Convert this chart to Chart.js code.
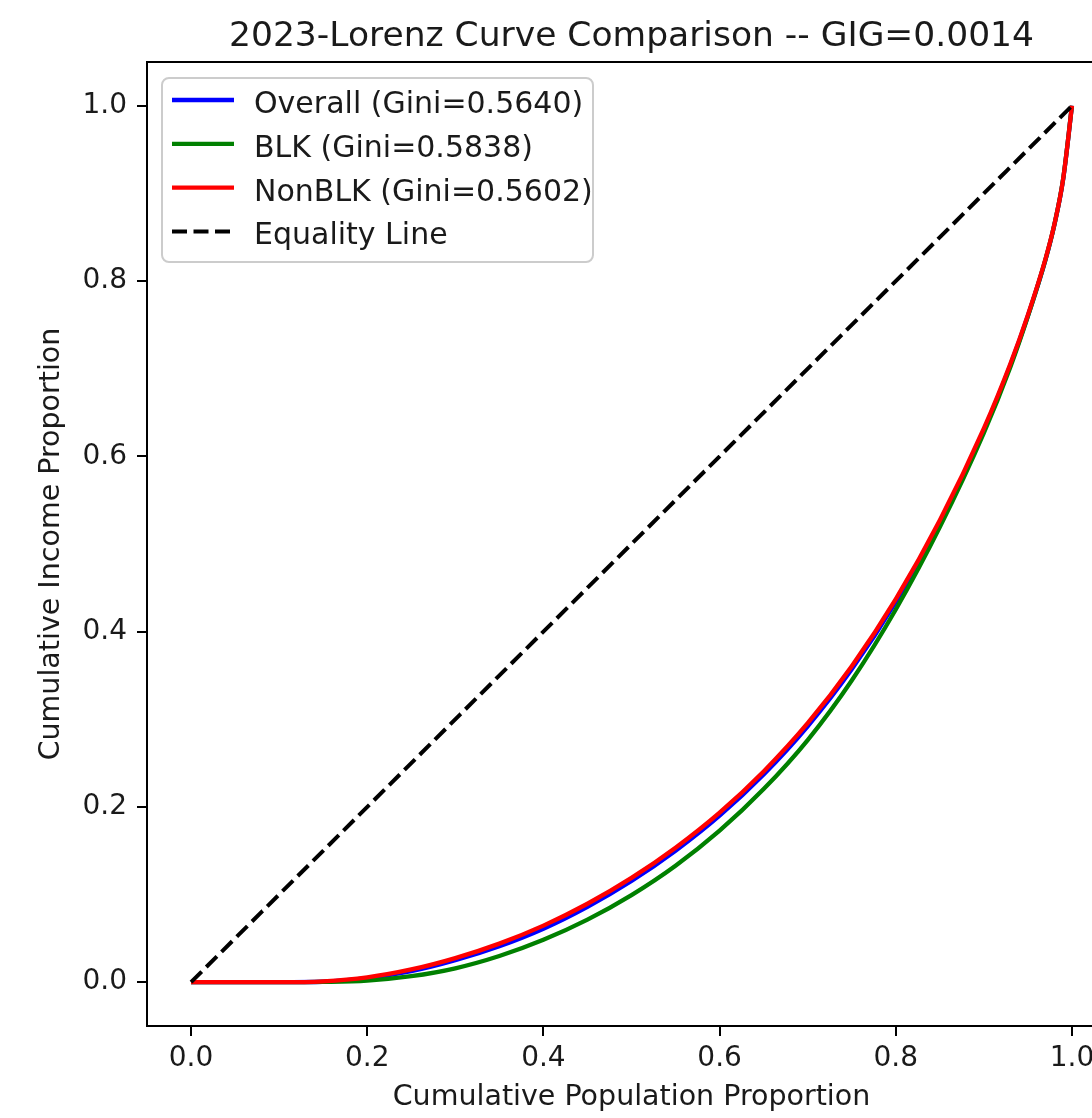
<!DOCTYPE html>
<html>
<head>
<meta charset="utf-8">
<title>Lorenz Curve Comparison</title>
<script src="https://cdn.jsdelivr.net/npm/chart.js@4.4.0/dist/chart.umd.min.js"></script>
<style>
  html, body { margin: 0; padding: 0; background: #fff; overflow: hidden; }
  #wrap { width: 1092px; height: 1118px; overflow: hidden; }
</style>
</head>
<body>
<div id="wrap"><canvas id="lorenzChart" width="1160" height="1118"></canvas></div>
<script>
var populationShare = [0, 0.05, 0.1, 0.15, 0.2, 0.25, 0.3, 0.35, 0.4, 0.45, 0.5, 0.55, 0.6, 0.65, 0.7, 0.75, 0.8, 0.85, 0.9, 0.93, 0.95, 0.97, 0.98, 0.99, 1.0];
var overallShare = [0, 0, 0, 0.0005, 0.0045, 0.0125, 0.025, 0.041, 0.061, 0.086, 0.1155, 0.150, 0.190, 0.237, 0.292, 0.357, 0.434, 0.5245, 0.630, 0.704, 0.7605, 0.8245, 0.864, 0.916, 1.0];
var blkShare = [0, 0, 0, 0.0003, 0.0018, 0.0068, 0.0158, 0.0298, 0.0483, 0.0713, 0.0993, 0.1328, 0.1728, 0.2203, 0.2763, 0.3443, 0.4253, 0.5193, 0.6268, 0.7018, 0.7598, 0.8248, 0.8643, 0.9168, 1.0];
var nonBlkShare = [0, 0, 0, 0.001, 0.0055, 0.0145, 0.0275, 0.044, 0.0645, 0.0895, 0.119, 0.1535, 0.1935, 0.2405, 0.2955, 0.3605, 0.437, 0.527, 0.632, 0.7055, 0.7615, 0.8255, 0.8645, 0.9165, 1.0];
var equalityPop = [0, 1];
var equalityShare = [0, 1];

var seriesLabels = ["Overall (Gini=0.5640)", "BLK (Gini=0.5838)", "NonBLK (Gini=0.5602)", "Equality Line"];
var chartTitle = "2023-Lorenz Curve Comparison -- GIG=0.0014";
var xTicks = [0, 0.2, 0.4, 0.6, 0.8, 1.0];
var yTicks = [0, 0.2, 0.4, 0.6, 0.8, 1.0];

var FONT = "'DejaVu Sans', sans-serif";
var TEXT = "#1a1a1a";

function toPoints(xs, ys) {
  return xs.map(function (x, i) {
    return { x: x, y: ys[i] };
  });
}

// matplotlib style box: top (and right) spine
var framePlugin = {
  id: "frame",
  afterDatasetsDraw: function (chart) {
    var a = chart.chartArea, ctx = chart.ctx;
    ctx.save();
    ctx.strokeStyle = "#000";
    ctx.lineWidth = 2;
    ctx.beginPath();
    ctx.moveTo(a.left, a.top);
    ctx.lineTo(a.right, a.top);
    ctx.lineTo(a.right, a.bottom);
    ctx.stroke();
    ctx.restore();
  }
};

var titlePlugin = {
  id: "plotTitle",
  afterDraw: function (chart) {
    var a = chart.chartArea, ctx = chart.ctx;
    ctx.save();
    ctx.fillStyle = TEXT;
    ctx.font = "34.5px " + FONT;
    ctx.textAlign = "center";
    ctx.textBaseline = "alphabetic";
    ctx.fillText(chartTitle, (a.left + a.right) / 2, 46);
    ctx.restore();
  }
};

// legend inside the axes, upper left
var legendPlugin = {
  id: "insideLegend",
  afterDraw: function (chart) {
    var ctx = chart.ctx;
    var a = chart.chartArea;
    var x0 = a.left + 15, y0 = a.top + 16, w = 431, h = 184;
    ctx.save();
    ctx.fillStyle = "rgba(255,255,255,0.8)";
    ctx.strokeStyle = "#cccccc";
    ctx.lineWidth = 2;
    ctx.beginPath();
    ctx.roundRect(x0, y0, w, h, 7);
    ctx.fill();
    ctx.stroke();
    ctx.font = "30px " + FONT;
    ctx.textAlign = "left";
    ctx.textBaseline = "alphabetic";
    chart.data.datasets.forEach(function (ds, i) {
      var rowY = y0 + 22 + i * 43.8;
      ctx.strokeStyle = ds.borderColor;
      ctx.lineWidth = ds.borderWidth;
      ctx.setLineDash(ds.borderDash || []);
      ctx.beginPath();
      ctx.moveTo(x0 + 10, rowY);
      ctx.lineTo(x0 + 72, rowY);
      ctx.stroke();
      ctx.setLineDash([]);
      ctx.fillStyle = TEXT;
      ctx.fillText(ds.label, x0 + 92, rowY + 13);
    });
    ctx.restore();
  }
};

var ctx = document.getElementById("lorenzChart").getContext("2d");
var chart = new Chart(ctx, {
  type: "line",
  data: {
    datasets: [
      { label: seriesLabels[0], data: toPoints(populationShare, overallShare), borderColor: "#0000ff", borderWidth: 4.3, order: 3 },
      { label: seriesLabels[1], data: toPoints(populationShare, blkShare), borderColor: "#008000", borderWidth: 4.3, order: 2 },
      { label: seriesLabels[2], data: toPoints(populationShare, nonBlkShare), borderColor: "#ff0000", borderWidth: 4.3, order: 1 },
      { label: seriesLabels[3], data: toPoints(equalityPop, equalityShare), borderColor: "#000000", borderWidth: 4, borderDash: [15, 6.5], order: 0 }
    ]
  },
  options: {
    responsive: false,
    animation: false,
    devicePixelRatio: 1,
    layout: { padding: { top: 62, right: 44, bottom: 0, left: 0 } },
    elements: {
      point: { radius: 0 },
      line: { cubicInterpolationMode: "monotone", fill: false, borderCapStyle: "butt" }
    },
    plugins: {
      legend: { display: false },
      title: { display: false },
      tooltip: { enabled: false }
    },
    scales: {
      x: {
        type: "linear",
        min: -0.05,
        max: 1.05,
        afterBuildTicks: function (axis) {
          axis.ticks = xTicks.map(function (v) { return { value: v }; });
        },
        afterFit: function (axis) { axis.height = 92; },
        grid: { display: true, drawOnChartArea: false, drawTicks: true, tickLength: 10, lineWidth: 2, color: "#000" },
        border: { display: true, color: "#000", width: 2 },
        ticks: {
          color: TEXT, padding: 6, maxRotation: 0, autoSkip: false,
          font: { family: FONT, size: 28 },
          callback: function (v) { return Number(v).toFixed(1); }
        },
        title: {
          display: true, text: "Cumulative Population Proportion", color: TEXT,
          font: { family: FONT, size: 28.5 }, padding: { top: 0, bottom: 3 }
        }
      },
      y: {
        type: "linear",
        min: -0.05,
        max: 1.05,
        afterBuildTicks: function (axis) {
          axis.ticks = yTicks.map(function (v) { return { value: v }; });
        },
        afterFit: function (axis) { axis.width = 147; },
        grid: { display: true, drawOnChartArea: false, drawTicks: true, tickLength: 10, lineWidth: 2, color: "#000" },
        border: { display: true, color: "#000", width: 2 },
        ticks: {
          color: TEXT, padding: 10, autoSkip: false,
          font: { family: FONT, size: 28 },
          callback: function (v) { return Number(v).toFixed(1); }
        },
        title: {
          display: true, text: "Cumulative Income Proportion", color: TEXT,
          font: { family: FONT, size: 28.5 }, padding: { top: 34, bottom: 0 }
        }
      }
    }
  },
  plugins: [framePlugin, titlePlugin, legendPlugin]
});
</script>
</body>
</html>
